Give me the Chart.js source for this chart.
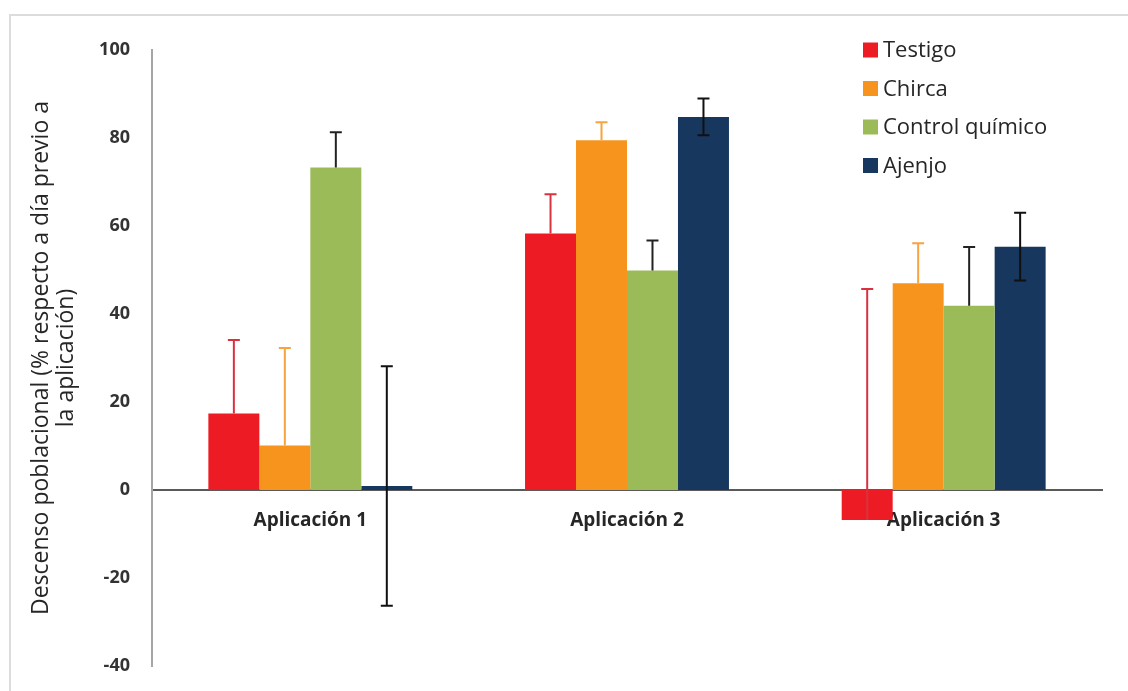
<!DOCTYPE html>
<html>
<head>
<meta charset="utf-8">
<script src="https://cdn.jsdelivr.net/npm/chart.js@4.4.0/dist/chart.umd.min.js"></script>
<style>
  html, body { margin: 0; padding: 0; background: #fff; }
  #wrap { position: relative; width: 1128px; height: 691px; }
  #frame { position: absolute; left: 9px; top: 14px; right: 0; bottom: 0;
           border-left: 2px solid #dcdcdc; border-top: 2px solid #dcdcdc; }
  #chart { position: absolute; left: 0; top: 0; }
</style>
</head>
<body>
<div id="wrap">
  <div id="frame"></div>
  <canvas id="chart" width="1128" height="691"></canvas>
</div>
<script>
// Data
const categories = ['Aplicación 1', 'Aplicación 2', 'Aplicación 3'];
const seriesNames = ['Testigo', 'Chirca', 'Control químico', 'Ajenjo'];
const testigo = [17.4, 58.3, -6.8];
const chirca = [10.1, 79.5, 47.0];
const controlQuimico = [73.3, 49.9, 41.9];
const ajenjo = [0.9, 84.8, 55.3];

// error bars (upper part; Ajenjo also shows the lower part)
const testigoErr = [16.7, 8.9, 52.5];
const chircaErr = [22.2, 4.1, 9.1];
const controlErr = [8.0, 6.8, 13.3];
const ajenjoErr = [27.2, 4.2, 7.7];
const noErr = [0, 0, 0];

const yTicks = [-40, -20, 0, 20, 40, 60, 80, 100];

const barColors = ['#ed1c24', '#f7941d', '#9bbb59', '#17375e'];
const errColors = ['#d9323f', '#f7a340', '#222222', '#111111'];

const values = [testigo, chirca, controlQuimico, ajenjo];
const errsUp = [testigoErr, chircaErr, controlErr, ajenjoErr];
const errsDown = [noErr, noErr, noErr, ajenjoErr];

const FONT = "'Open Sans', sans-serif";

// draw the error bars on top of the bars
const errorBars = {
  id: 'errorBars',
  afterDatasetsDraw(chart) {
    const ctx = chart.ctx;
    const yScale = chart.scales.y;
    chart.data.datasets.forEach((ds, i) => {
      const meta = chart.getDatasetMeta(i);
      meta.data.forEach((bar, j) => {
        const v = ds.data[j];
        const top = yScale.getPixelForValue(v + ds.errUp[j]);
        const bot = yScale.getPixelForValue(v - ds.errDown[j]);
        ctx.save();
        ctx.strokeStyle = ds.errColor;
        ctx.lineWidth = 2;
        ctx.beginPath();
        ctx.moveTo(bar.x, top);
        ctx.lineTo(bar.x, bot);
        ctx.moveTo(bar.x - 6, top);
        ctx.lineTo(bar.x + 6, top);
        if (ds.errDown[j] > 0) {
          ctx.moveTo(bar.x - 6, bot);
          ctx.lineTo(bar.x + 6, bot);
        }
        ctx.stroke();
        ctx.restore();
      });
    });
  }
};

// legend drawn inside the plot, top right
const boxLegend = {
  id: 'boxLegend',
  afterDraw(chart) {
    const ctx = chart.ctx;
    ctx.save();
    ctx.font = '22px ' + FONT;
    ctx.textBaseline = 'middle';
    chart.data.datasets.forEach((ds, i) => {
      const cy = 50 + i * 38.5;
      ctx.fillStyle = ds.backgroundColor;
      ctx.fillRect(863, cy - 7.5, 15, 15);
      ctx.fillStyle = '#262626';
      ctx.fillText(ds.label, 883, cy + 1);
    });
    ctx.restore();
  }
};

const datasets = seriesNames.map((name, i) => ({
  label: name,
  data: values[i],
  backgroundColor: barColors[i],
  errUp: errsUp[i],
  errDown: errsDown[i],
  errColor: errColors[i],
  barPercentage: 1.0,
  categoryPercentage: 0.644
}));

new Chart(document.getElementById('chart'), {
  type: 'bar',
  data: { labels: categories, datasets: datasets },
  options: {
    responsive: false,
    animation: false,
    layout: { padding: { left: 0, top: 50, right: 26, bottom: 25 } },
    plugins: {
      legend: { display: false },
      tooltip: { enabled: false }
    },
    scales: {
      x: {
        position: { y: 0 },
        z: 1,
        // axis sits on the zero line, so it should not eat layout space
        afterFit: (scale) => { scale.height = 0; },
        grid: { display: false, drawTicks: false },
        border: { display: true, color: '#5a5a5a', width: 2 },
        ticks: {
          padding: 19,
          color: '#262626',
          font: { family: FONT, size: 19, weight: 'bold' }
        }
      },
      y: {
        min: -40,
        max: 100,
        afterFit: (scale) => {
          scale.width = 152;
          // tick padding otherwise pushes the plot bottom up
          scale.paddingTop = 0;
          scale.paddingBottom = 0;
        },
        afterBuildTicks: (scale) => { scale.ticks = yTicks.map(v => ({ value: v })); },
        grid: { display: false, drawTicks: false },
        border: { display: true, color: '#a6a6a6', width: 2 },
        ticks: {
          padding: 22,
          color: '#333333',
          font: { family: FONT, size: 18, weight: 'bold' }
        },
        title: {
          display: true,
          text: ['Descenso poblacional (% respecto a día previo a', 'la aplicación)'],
          color: '#262626',
          font: { family: FONT, size: 23, lineHeight: 1.1 },
          padding: { top: 29, bottom: 0 }
        }
      }
    }
  },
  plugins: [errorBars, boxLegend]
});
</script>
</body>
</html>
